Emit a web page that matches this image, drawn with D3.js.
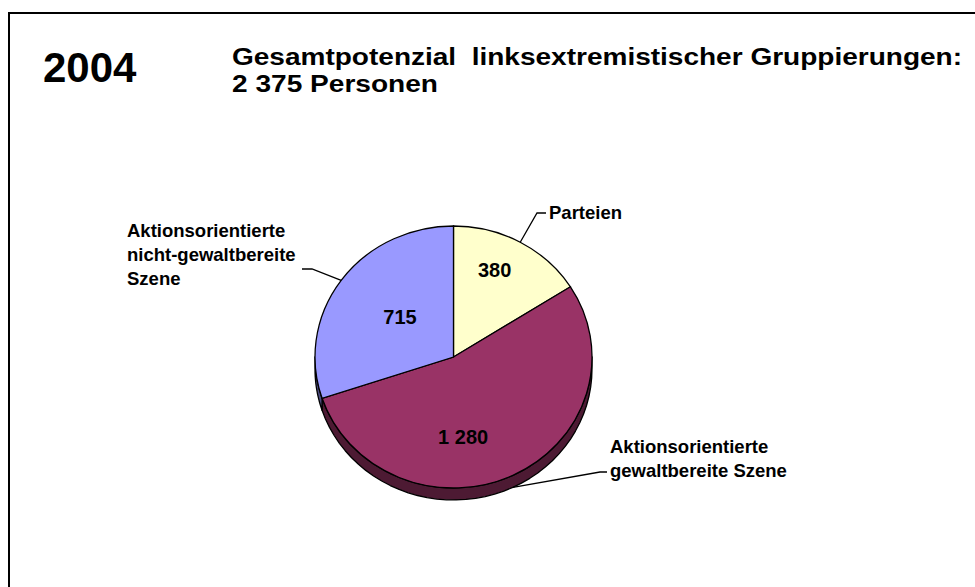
<!DOCTYPE html>
<html>
<head>
<meta charset="utf-8">
<script src="https://cdn.jsdelivr.net/npm/d3@7"></script>
<style>
  body { margin: 0; background: #fff; }
  svg text { font-family: "Liberation Sans", Arial, sans-serif; font-weight: bold; fill: #000; }
</style>
</head>
<body>
<div id="chart"></div>
<script>
// ----- data ----- //
var year = "2004"
var titleLines = ["Gesamtpotenzial  linksextremistischer Gruppierungen:", "2 375 Personen"]
var categories = [
    ["Parteien"],
    ["Aktionsorientierte", "gewaltbereite Szene"],
    ["Aktionsorientierte", "nicht-gewaltbereite", "Szene"]
]
var values = [380, 1280, 715]
var valueLabels = ["380", "1 280", "715"]

// ----- layout / style ----- //
var colors = ["#FFFFCC", "#993366", "#9999FF"]
var sideColors = ["#80805f", "#4d1a33", "#4d4d80"]
var titleWidths = [730, 206]
// value label position: [angle deg, radius fraction]
var valuePos = [[24, 0.73], [173.5, 0.615], [308, 0.49]]
// leader line elbow + text anchor for each category label
var leaderPts = [
    [[537, 213], [546, 213]],
    [[600, 472], [607, 472]],
    [[312, 269], [302, 269]]
]
var labelAnchor = [[549, 219, "start"], [610, 453, "start"], [127, 237, "start"]]

var W = 975, H = 587
var cx = 453.5, cy = 357, rx = 138.5, ry = 131, depth = 12

var svg = d3.select("#chart").append("svg")
    .attr("width", W)
    .attr("height", H)

// frame
svg.append("rect")
    .attr("x", 9).attr("y", 13)
    .attr("width", 1000).attr("height", 1000)
    .attr("fill", "none")
    .attr("stroke", "#000")
    .attr("stroke-width", 2)

svg.append("text")
    .attr("x", 43).attr("y", 82)
    .style("font-size", "42px")
    .text(year)

svg.selectAll(".title")
    .data(titleLines)
    .enter()
    .append("text")
    .attr("class", "title")
    .attr("x", 232)
    .attr("y", function (d, i) { return 65 + i * 27 })
    .attr("xml:space", "preserve")
    .attr("textLength", function (d, i) { return titleWidths[i] })
    .attr("lengthAdjust", "spacingAndGlyphs")
    .style("white-space", "pre")
    .style("font-size", "23.5px")
    .text(function (d) { return d })

// ----- pie ----- //
var pie = d3.pie().sort(null).value(function (d) { return d })
var arcs = pie(values)

function ept(a, dy) {
    return [cx + rx * Math.sin(a), cy - ry * Math.cos(a) + (dy || 0)]
}

// side walls (front half only)
arcs.forEach(function (d, i) {
    var a0 = Math.max(d.startAngle, Math.PI / 2)
    var a1 = Math.min(d.endAngle, Math.PI * 1.5)
    if (a1 <= a0) return
    var n = 40, pts = []
    for (var k = 0; k <= n; k++) pts.push(ept(a0 + (a1 - a0) * k / n, 0))
    for (var k = n; k >= 0; k--) pts.push(ept(a0 + (a1 - a0) * k / n, depth))
    svg.append("path")
        .attr("d", d3.line()(pts) + "Z")
        .attr("fill", sideColors[i])
        .attr("stroke", "#000")
        .attr("stroke-width", 1.3)
        .attr("stroke-linejoin", "round")
})

var arc = d3.arc().innerRadius(0).outerRadius(rx)

svg.append("g")
    .attr("transform", "translate(" + cx + "," + cy + ") scale(1," + (ry / rx) + ")")
    .selectAll("path")
    .data(arcs)
    .enter()
    .append("path")
    .attr("d", arc)
    .attr("fill", function (d, i) { return colors[i] })
    .attr("stroke", "#000")
    .attr("stroke-width", 1.3)
    .attr("vector-effect", "non-scaling-stroke")

// value labels
svg.selectAll(".val")
    .data(arcs)
    .enter()
    .append("text")
    .attr("class", "val")
    .attr("text-anchor", "middle")
    .attr("dy", "0.35em")
    .attr("x", function (d, i) { return cx + rx * valuePos[i][1] * Math.sin(valuePos[i][0] * Math.PI / 180) })
    .attr("y", function (d, i) { return cy - ry * valuePos[i][1] * Math.cos(valuePos[i][0] * Math.PI / 180) })
    .style("font-size", "20px")
    .text(function (d, i) { return valueLabels[i] })

// leader lines
arcs.forEach(function (d, i) {
    var mid = (d.startAngle + d.endAngle) / 2
    var front = Math.cos(mid) < 0
    var start = ept(mid, front ? depth : 0)
    svg.append("path")
        .attr("d", d3.line()([start].concat(leaderPts[i])))
        .attr("fill", "none")
        .attr("stroke", "#000")
        .attr("stroke-width", 1.3)
})

// category labels
categories.forEach(function (lines, i) {
    var t = svg.append("text")
        .attr("x", labelAnchor[i][0])
        .attr("y", labelAnchor[i][1])
        .attr("text-anchor", labelAnchor[i][2])
        .style("font-size", "18.5px")
    lines.forEach(function (l, j) {
        t.append("tspan")
            .attr("x", labelAnchor[i][0])
            .attr("dy", j === 0 ? 0 : 24)
            .text(l)
    })
})
</script>
</body>
</html>
